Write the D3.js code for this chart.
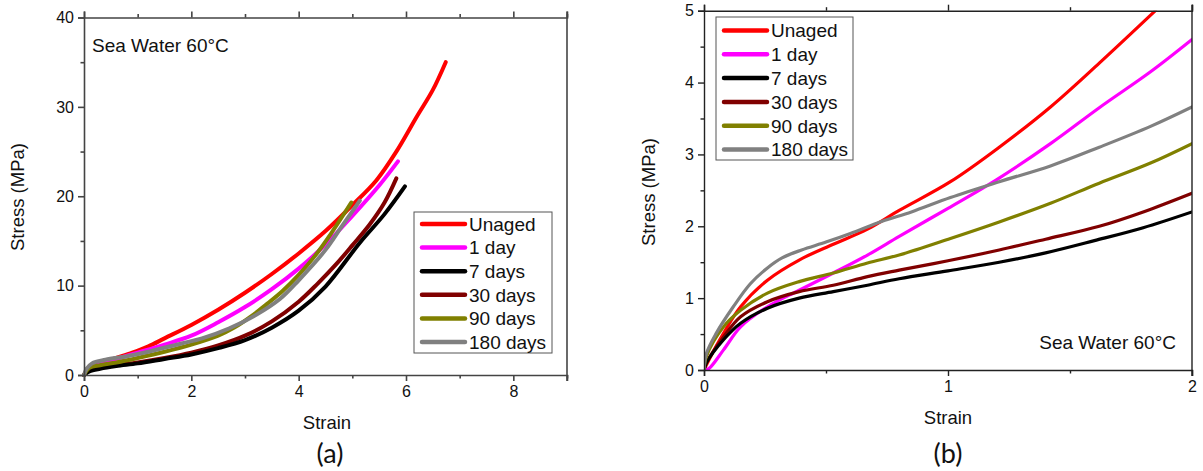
<!DOCTYPE html>
<html><head><meta charset="utf-8">
<script src="https://cdn.jsdelivr.net/npm/d3@7"></script>
<style>body{margin:0;background:#fff}svg{display:block}</style>
</head><body>
<svg id="c" width="1203" height="471"></svg>
<script>
const seriesNames = ["Unaged","1 day","7 days","30 days","90 days","180 days"];
const seriesColors = ["#ff0000","#ff00ff","#000000","#800000","#808000","#808080"];

// Panel (a): full curves [strain, stress MPa]
const aUnaged = [[0,0],[0.1,0.7],[0.3,1.3],[0.6,1.9],[0.9,2.5],[1.2,3.2],[1.5,4.1],[2,5.6],[2.5,7.3],[3,9.2],[3.5,11.3],[4,13.6],[4.5,16.1],[5,19.0],[5.45,21.8],[5.82,25.0],[6.2,28.9],[6.5,31.9],[6.74,35.0]];
const a1day = [[0,0],[0.1,0.6],[0.3,1.2],[0.6,1.8],[1,2.5],[1.5,3.4],[2,4.4],[2.5,5.9],[3,7.6],[3.5,9.6],[4,11.9],[4.5,14.6],[5,17.8],[5.5,21.2],[5.85,23.9]];
const a7days = [[0,0],[0.1,0.4],[0.3,0.7],[0.6,1.0],[1,1.3],[1.5,1.8],[2,2.3],[2.5,3.0],[3,3.9],[3.5,5.3],[4,7.2],[4.5,9.9],[5.14,14.8],[5.6,18.0],[5.98,21.1]];
const a30days = [[0,0],[0.1,0.5],[0.3,0.8],[0.6,1.1],[1,1.4],[1.5,1.9],[2,2.5],[2.5,3.3],[3,4.4],[3.5,6.0],[4,8.2],[4.35,10.2],[4.7,12.4],[5.0,14.5],[5.33,16.9],[5.6,19.3],[5.82,22.0]];
const a90days = [[0,0],[0.1,0.8],[0.3,1.1],[0.6,1.4],[1,1.9],[1.5,2.6],[2,3.4],[2.5,4.4],[2.8,5.3],[3.1,6.5],[3.4,7.9],[3.7,9.4],[4,11.2],[4.3,13.3],[4.6,15.8],[4.98,19.3]];
const a180days = [[0,0],[0.05,0.7],[0.15,1.3],[0.4,1.7],[0.8,2.1],[1.2,2.6],[1.8,3.5],[2.2,4.1],[2.7,5.2],[3.2,6.7],[3.65,8.5],[4,10.6],[4.5,14.0],[4.8,16.6],[5.14,19.5]];

// Panel (b): zoom on low strain
const bUnaged = [[0,0],[0.02,0.14],[0.08,0.51],[0.15,0.88],[0.26,1.25],[0.39,1.53],[0.53,1.75],[0.67,1.96],[0.8,2.22],[1.01,2.62],[1.21,3.1],[1.42,3.66],[1.62,4.27],[1.85,5.0]];
const b1day = [[0,0],[0.02,0.02],[0.08,0.28],[0.15,0.6],[0.26,0.88],[0.39,1.11],[0.53,1.35],[0.67,1.6],[0.8,1.86],[1.0,2.25],[1.2,2.65],[1.42,3.15],[1.62,3.65],[1.83,4.15],[2.0,4.6]];
const b7days = [[0,0],[0.01,0.1],[0.08,0.42],[0.15,0.65],[0.26,0.86],[0.39,1.0],[0.53,1.09],[0.67,1.18],[0.8,1.27],[1.0,1.38],[1.21,1.5],[1.4,1.63],[1.6,1.8],[1.8,1.98],[2.0,2.2]];
const b30days = [[0,0],[0.01,0.1],[0.08,0.46],[0.15,0.74],[0.26,0.95],[0.39,1.09],[0.53,1.18],[0.67,1.3],[0.8,1.39],[1.0,1.52],[1.21,1.67],[1.4,1.82],[1.62,2.0],[1.8,2.2],[2.0,2.46]];
const b90days = [[0,0],[0.01,0.19],[0.08,0.6],[0.15,0.83],[0.26,1.07],[0.39,1.23],[0.53,1.35],[0.67,1.49],[0.8,1.6],[1.01,1.83],[1.21,2.06],[1.42,2.32],[1.62,2.6],[1.83,2.88],[2.0,3.15]];
const b180days = [[0,0],[0.01,0.23],[0.05,0.51],[0.12,0.88],[0.19,1.2],[0.26,1.42],[0.32,1.56],[0.4,1.67],[0.5,1.78],[0.6,1.9],[0.73,2.07],[0.85,2.2],[1.01,2.4],[1.21,2.62],[1.42,2.84],[1.62,3.1],[1.83,3.39],[2.0,3.66]];

const aSeries = [aUnaged,a1day,a7days,a30days,a90days,a180days];
const bSeries = [bUnaged,b1day,b7days,b30days,b90days,b180days];

const aXTicks = [0,2,4,6,8];
const aYTicks = [0,10,20,30,40];
const bXTicks = [0,1,2];
const bYTicks = [0,1,2,3,4,5];

const svg = d3.select("#c");
const FONT = "'Liberation Sans', Arial, sans-serif";

function panel(o){
  const g = svg.append("g");
  const x = d3.scaleLinear().domain(o.xd).range([o.l,o.r]);
  const y = d3.scaleLinear().domain(o.yd).range([o.b,o.t]);
  const clipId = "clip"+o.id;
  svg.append("clipPath").attr("id",clipId).append("rect")
    .attr("x",o.l).attr("y",o.t).attr("width",o.r-o.l).attr("height",o.b-o.t);
  const line = d3.line().x(d=>x(d[0])).y(d=>y(d[1])).curve(d3.curveCatmullRom.alpha(0.5));
  o.drawOrder.forEach(i=>{
    g.append("path").datum(o.series[i]).attr("d",line)
      .attr("fill","none").attr("stroke",seriesColors[i]).attr("stroke-width",o.lw)
      .attr("stroke-linecap","round").attr("stroke-linejoin","round")
      .attr("clip-path", o.clip ? `url(#${clipId})` : null);
  });
  const ac = o.axisColor;
  const axB = d3.axisBottom(x).tickValues(o.xt).tickSize(6).tickFormat(d3.format("d"));
  const axL = d3.axisLeft(y).tickValues(o.yt).tickSize(6).tickFormat(d3.format("d"));
  const axT = d3.axisTop(x).tickValues(o.xt).tickSize(6).tickFormat("");
  const axBm = d3.axisBottom(x).tickValues(o.xm).tickSize(3.5).tickFormat("");
  const axLm = d3.axisLeft(y).tickValues(o.ym).tickSize(3.5).tickFormat("");
  const axTm = d3.axisTop(x).tickValues(o.xm).tickSize(3.5).tickFormat("");
  const style = sel=>{
    sel.selectAll("path").attr("stroke",ac).attr("stroke-width",o.aw);
    sel.selectAll("line").attr("stroke",ac).attr("stroke-width",o.aw);
    sel.selectAll("text").attr("fill","#111").style("font-family",FONT).style("font-size","16px");
  };
  const gb = g.append("g").attr("transform",`translate(0,${o.b})`).call(axB).call(style);
  gb.selectAll("text").attr("dy","0.95em").attr("y",7);
  g.append("g").attr("transform",`translate(0,${o.b})`).call(axBm).call(style).select("path").remove();
  const gl = g.append("g").attr("transform",`translate(${o.l},0)`).call(axL).call(style);
  gl.selectAll("text").attr("x",-10);
  g.append("g").attr("transform",`translate(${o.l},0)`).call(axLm).call(style).select("path").remove();
  g.append("g").attr("transform",`translate(0,${o.t})`).call(axT).call(style);
  g.append("g").attr("transform",`translate(0,${o.t})`).call(axTm).call(style).select("path").remove();
  g.append("line").attr("x1",o.r).attr("x2",o.r).attr("y1",o.t-6).attr("y2",o.b+6)
    .attr("stroke",ac).attr("stroke-width",o.aw);

  g.append("text").attr("x",o.xlX).attr("y",o.b+54).attr("text-anchor","middle")
    .style("font-family",FONT).style("font-size","18.5px").attr("fill","#111").text("Strain");
  g.append("text").attr("transform",`translate(${o.yl},${o.ylY}) rotate(-90)`).attr("text-anchor","middle")
    .style("font-family",FONT).style("font-size","18.5px").attr("fill","#111").text("Stress (MPa)");
  g.append("text").attr("x",o.capX).attr("y",463).attr("text-anchor","middle")
    .style("font-family","Lato, 'Open Sans', sans-serif").style("font-size","27px").attr("fill","#111").text(o.cap);
  g.append("text").attr("x",o.noteX).attr("y",o.noteY).attr("text-anchor",o.noteAnchor)
    .style("font-family",FONT).style("font-size","19px").attr("fill","#111").text("Sea Water 60°C");

  const L = o.leg;
  g.append("rect").attr("x",L.x).attr("y",L.y).attr("width",L.w).attr("height",L.h)
    .attr("fill","#fff").attr("stroke","#555").attr("stroke-width",1);
  seriesNames.forEach((n,i)=>{
    const yy = L.y + L.first + i*L.step;
    g.append("line").attr("x1",L.x+8).attr("x2",L.x+51).attr("y1",yy).attr("y2",yy)
      .attr("stroke",seriesColors[i]).attr("stroke-width",4.5).attr("stroke-linecap","round");
    g.append("text").attr("x",L.x+55).attr("y",yy).attr("dy","0.36em")
      .style("font-family",FONT).style("font-size","19px").attr("fill","#111").text(n);
  });
}

panel({id:"a", l:84, r:567, t:17.5, b:375, xd:[0,9], yd:[0,40],
  xt:aXTicks, yt:aYTicks, xm:[1,3,5,7,9], ym:[5,15,25,35],
  series:aSeries, drawOrder:[0,1,3,2,4,5], lw:4, aw:1.6, axisColor:"#444", clip:false,
  yl:24, ylY:197, xlX:327, capX:330, cap:"(a)", noteX:92, noteY:52, noteAnchor:"start",
  leg:{x:414, y:212, w:138, h:141, first:12, step:23.6}});

panel({id:"b", l:704, r:1192, t:10.7, b:370, xd:[0,2], yd:[0,5],
  xt:bXTicks, yt:bYTicks, xm:[0.5,1.5], ym:[0.5,1.5,2.5,3.5,4.5],
  series:bSeries, drawOrder:[0,1,3,2,4,5], lw:3.2, aw:1.4, axisColor:"#222", clip:true,
  yl:655, ylY:192, xlX:948, capX:948, cap:"(b)", noteX:1176, noteY:349, noteAnchor:"end",
  leg:{x:716, y:17, w:137, h:143, first:13.5, step:23.8}});
</script>
</body></html>
